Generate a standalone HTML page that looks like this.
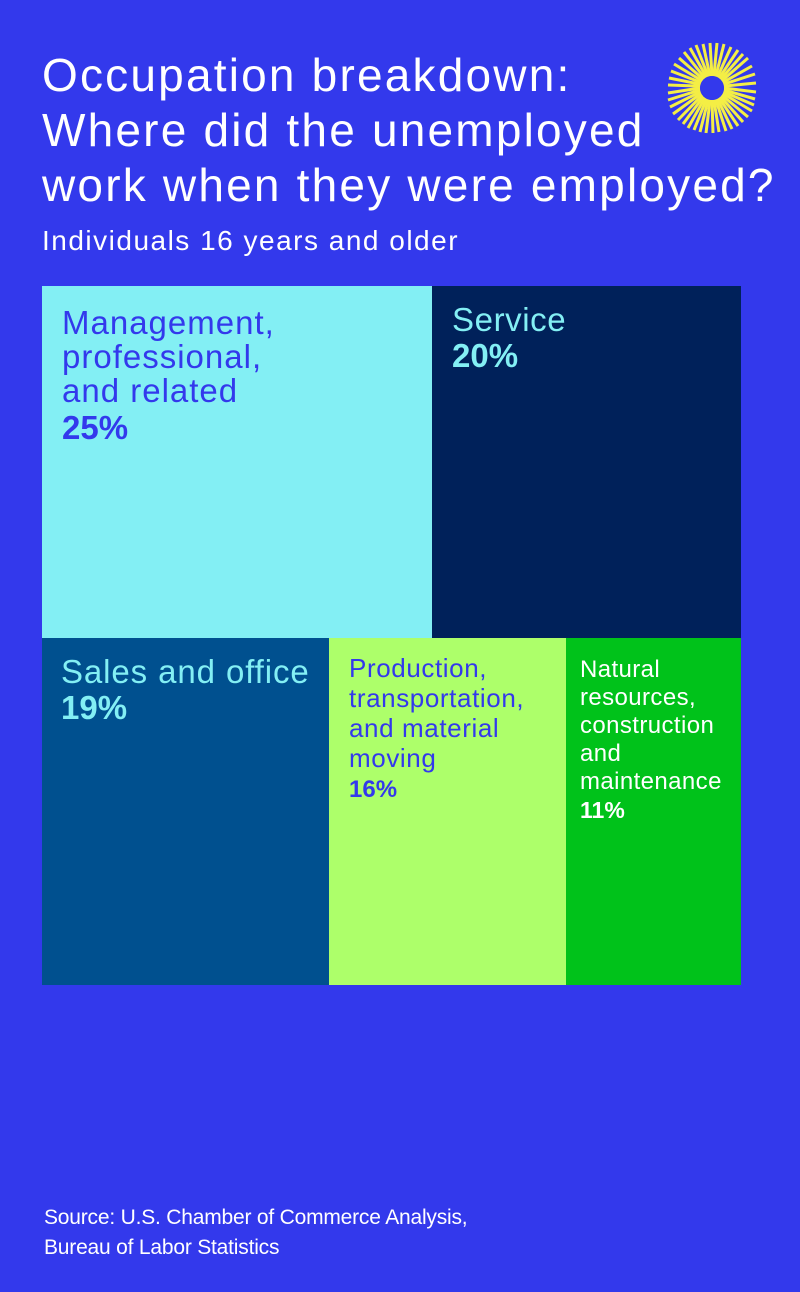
<!DOCTYPE html>
<html><head><style>
body{margin:0;width:800px;height:1292px;background:#3339ec;font-family:"Liberation Sans",sans-serif;position:relative;overflow:hidden}
.t{position:absolute;left:42px;top:48px;color:#fff;font-size:46px;line-height:55px;letter-spacing:2.2px;white-space:nowrap}
.s{position:absolute;left:42px;top:225px;color:#fff;font-size:28px;letter-spacing:1.5px;white-space:nowrap}
.b{position:absolute}
.l{position:absolute;font-size:33px;line-height:34px;white-space:nowrap}
.p{font-weight:bold;letter-spacing:0}
.src{position:absolute;left:44px;top:1203px;color:#fff;font-size:21px;line-height:30px;letter-spacing:-0.2px}
</style></head><body>
<div class="t">Occupation breakdown:<br>Where did the unemployed<br>work when they were employed?</div>
<div class="s">Individuals 16 years and older</div>
<div class="b" style="left:42px;top:286px;width:390px;height:352px;background:#83eff4"></div>
<div class="b" style="left:432px;top:286px;width:309px;height:352px;background:#00215a"></div>
<div class="b" style="left:42px;top:638px;width:287px;height:347px;background:#00508f"></div>
<div class="b" style="left:329px;top:638px;width:237px;height:347px;background:#adff6a"></div>
<div class="b" style="left:566px;top:638px;width:175px;height:347px;background:#00c21a"></div>
<div class="l" style="left:62px;top:306px;color:#3339ec;letter-spacing:1px">Management,<br>professional,<br>and related<br><span class="p" style="line-height:40px">25%</span></div>
<div class="l" style="left:452px;top:303px;color:#83eff4;letter-spacing:0.6px">Service<br><span class="p" style="line-height:38px">20%</span></div>
<div class="l" style="left:61px;top:655px;color:#83eff4;letter-spacing:0.9px">Sales and office<br><span class="p" style="line-height:38px">19%</span></div>
<div class="l" style="left:349px;top:653px;color:#3339ec;font-size:26px;line-height:30px;letter-spacing:0.6px">Production,<br>transportation,<br>and material<br>moving<br><span class="p" style="font-size:24px">16%</span></div>
<div class="l" style="left:580px;top:656px;color:#fff;font-size:24px;line-height:28px;letter-spacing:0.4px">Natural<br>resources,<br>construction<br>and<br>maintenance<br><span class="p" style="font-size:23px">11%</span></div>
<div class="src">Source: U.S. Chamber of Commerce Analysis,<br>Bureau of Labor Statistics</div>
<svg style="position:absolute;left:662px;top:38px" width="100" height="100" viewBox="-50 -50 100 100">
<g stroke="#f4ee45" stroke-width="3">
<line x1="12" y1="0" x2="44" y2="4"/><line x1="11.4" y1="3.7" x2="42" y2="17"/><line x1="9.7" y1="7" x2="36" y2="29"/><line x1="7" y1="9.7" x2="26" y2="38"/><line x1="3.7" y1="11.4" x2="14" y2="43"/><line x1="0" y1="12" x2="1" y2="45"/><line x1="-3.7" y1="11.4" x2="-12" y2="44"/><line x1="-7" y1="9.7" x2="-24" y2="40"/><line x1="-9.7" y1="7" x2="-34" y2="32"/><line x1="-11.4" y1="3.7" x2="-42" y2="19"/><line x1="-12" y1="0" x2="-44" y2="5"/><line x1="-11.4" y1="-3.7" x2="-43" y2="-10"/><line x1="-9.7" y1="-7" x2="-38" y2="-24"/><line x1="-7" y1="-9.7" x2="-28" y2="-36"/><line x1="-3.7" y1="-11.4" x2="-16" y2="-43"/><line x1="0" y1="-12" x2="-2" y2="-45"/><line x1="3.7" y1="-11.4" x2="12" y2="-44"/><line x1="7" y1="-9.7" x2="26" y2="-38"/><line x1="9.7" y1="-7" x2="36" y2="-30"/><line x1="11.4" y1="-3.7" x2="43" y2="-14"/>
<line x1="11.8" y1="1.9" x2="43" y2="11"/><line x1="10.7" y1="5.4" x2="40" y2="23"/><line x1="8.5" y1="8.5" x2="31" y2="34"/><line x1="5.4" y1="10.7" x2="20" y2="41"/><line x1="1.9" y1="11.8" x2="7" y2="44"/><line x1="-1.9" y1="11.8" x2="-6" y2="45"/><line x1="-5.4" y1="10.7" x2="-18" y2="42"/><line x1="-8.5" y1="8.5" x2="-29" y2="36"/><line x1="-10.7" y1="5.4" x2="-39" y2="26"/><line x1="-11.8" y1="1.9" x2="-44" y2="12"/><line x1="-11.8" y1="-1.9" x2="-44" y2="-3"/><line x1="-10.7" y1="-5.4" x2="-41" y2="-17"/><line x1="-8.5" y1="-8.5" x2="-33" y2="-30"/><line x1="-5.4" y1="-10.7" x2="-22" y2="-40"/><line x1="-1.9" y1="-11.8" x2="-9" y2="-44"/><line x1="1.9" y1="-11.8" x2="5" y2="-45"/><line x1="5.4" y1="-10.7" x2="19" y2="-41"/><line x1="8.5" y1="-8.5" x2="31" y2="-34"/><line x1="10.7" y1="-5.4" x2="40" y2="-22"/><line x1="11.8" y1="-1.9" x2="44" y2="-5"/>
</g>
<circle r="12" fill="#3339ec"/>
</svg>
</body></html>
